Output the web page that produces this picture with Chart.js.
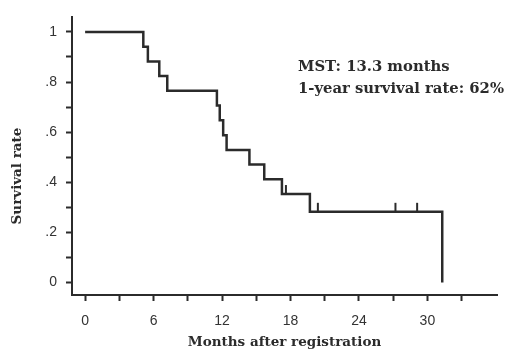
<!DOCTYPE html>
<html><head><meta charset="utf-8">
<script src="https://cdn.jsdelivr.net/npm/chart.js@4"></script>
<style>html,body{margin:0;padding:0;background:#fff}</style>
</head><body>
<canvas id="c" width="507" height="352" style="width:507px;height:352px"></canvas>
<script>
// Kaplan-Meier step points (months, survival)
const eventTimes = [0, 5.1, 5.5, 6.5, 7.2, 11.55, 11.8, 12.1, 12.4, 14.4, 15.7, 17.25, 19.7, 31.3];
const survival   = [1, 0.941, 0.882, 0.824, 0.765, 0.706, 0.647, 0.588, 0.529, 0.471, 0.412, 0.353, 0.282, 0];
// censored observations
const censorTimes = [17.6, 20.4, 27.2, 29.1];
const censorSurv  = [0.353, 0.282, 0.282, 0.282];
// ticks
const xTickValues = [0, 3, 6, 9, 12, 15, 18, 21, 24, 27, 30, 33];
const xLabelValues = [0, 6, 12, 18, 24, 30];
const yTickValues = [0, 0.1, 0.2, 0.3, 0.4, 0.5, 0.6, 0.7, 0.8, 0.9, 1];
const yLabelValues = [0, 0.2, 0.4, 0.6, 0.8, 1];
const yLabelTexts = ['0', '.2', '.4', '.6', '.8', '1'];
const annotationLines = ['MST: 13.3 months', '1-year survival rate: 62%'];
const xTitle = 'Months after registration';
const yTitle = 'Survival rate';

const ink = '#2b2b2b';
const serif = 'bold 14.8px "DejaVu Serif"';

const extras = {
  id: 'extras',
  afterDatasetsDraw(chart) {
    const ctx = chart.ctx, xs = chart.scales.x, ys = chart.scales.y;
    ctx.save();
    ctx.strokeStyle = ink; ctx.lineWidth = 2;
    censorTimes.forEach((t, i) => {
      const px = xs.getPixelForValue(t), py = ys.getPixelForValue(censorSurv[i]);
      ctx.beginPath(); ctx.moveTo(px, py); ctx.lineTo(px, py - 9); ctx.stroke();
    });
    ctx.fillStyle = ink;
    ctx.font = serif;
    ctx.textAlign = 'left'; ctx.textBaseline = 'middle';
    ctx.fillText(annotationLines[0], 298, 67);
    ctx.fillText(annotationLines[1], 298, 89);
    ctx.font = 'bold 13.5px "DejaVu Serif"';
    ctx.translate(17, 176); ctx.rotate(-Math.PI / 2);
    ctx.textAlign = 'center';
    ctx.fillText(yTitle, 0, 0);
    ctx.restore();
  }
};

new Chart(document.getElementById('c'), {
  type: 'line',
  data: {
    datasets: [{
      data: eventTimes.map((t, i) => ({x: t, y: survival[i]})),
      stepped: 'before',
      borderColor: ink,
      borderWidth: 2.5,
      pointRadius: 0,
      fill: false
    }]
  },
  options: {
    responsive: false,
    animation: false,
    devicePixelRatio: 1,
    layout: {padding: {top: 10, right: 10, left: 0, bottom: 0}},
    plugins: {legend: {display: false}, tooltip: {enabled: false}},
    scales: {
      x: {
        type: 'linear', min: -1.15, max: 36.1,
        afterBuildTicks: s => { s.ticks = xTickValues.map(v => ({value: v})); },
        afterFit: s => { s.height = 57; },
        ticks: {
          callback: v => xLabelValues.includes(v) ? String(v) : '',
          font: {family: '"Liberation Sans"', size: 14}, color: '#333',
          padding: 12, maxRotation: 0, autoSkip: false
        },
        grid: {drawOnChartArea: false, drawTicks: true, tickLength: 6, tickColor: ink, tickWidth: 2},
        border: {display: true, color: ink, width: 2},
        title: {display: true, text: xTitle, font: {family: '"DejaVu Serif"', weight: 'bold', size: 13.5}, color: ink, padding: {top: 0, bottom: 1}}
      },
      y: {
        type: 'linear', min: -0.05, max: 1.058,
        afterBuildTicks: s => { s.ticks = yTickValues.map(v => ({value: v})); },
        afterFit: s => { s.width = 72; },
        ticks: {
          callback: v => { const k = yLabelValues.findIndex(u => Math.abs(u - v) < 1e-6); return k >= 0 ? yLabelTexts[k] : ''; },
          font: {family: '"Liberation Sans"', size: 14}, color: '#333',
          padding: 9, autoSkip: false
        },
        grid: {drawOnChartArea: false, drawTicks: true, tickLength: 6, tickColor: ink, tickWidth: 2},
        border: {display: true, color: ink, width: 2}
      }
    }
  },
  plugins: [extras]
});
</script>
</body></html>
